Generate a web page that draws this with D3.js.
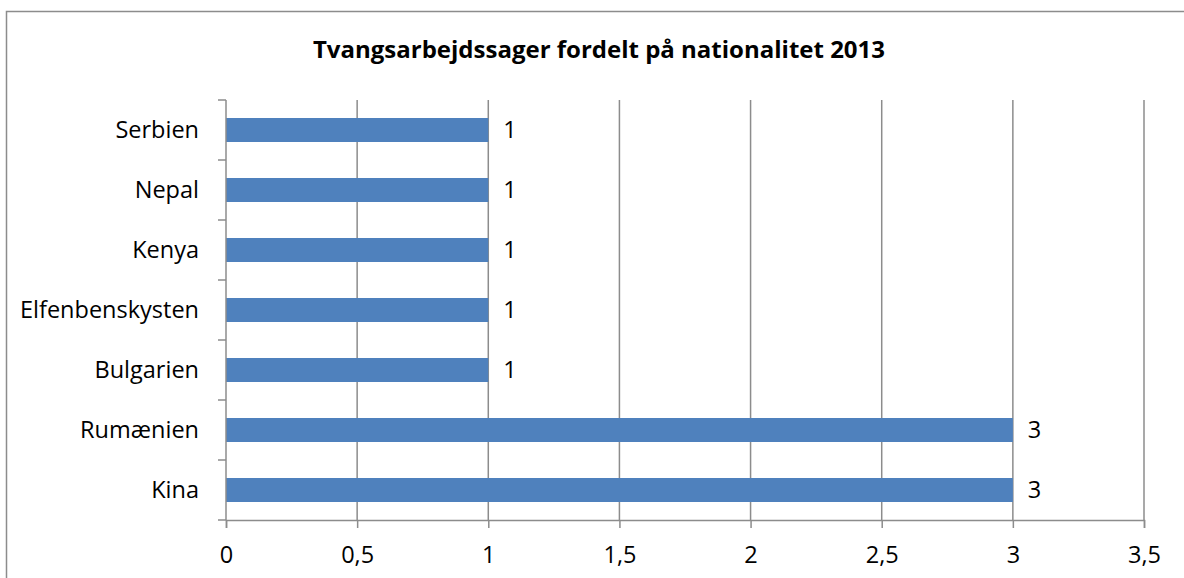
<!DOCTYPE html>
<html>
<head>
<meta charset="utf-8">
<script src="https://cdn.jsdelivr.net/npm/d3@7"></script>
<style>
  body { margin: 0; background: #fff; }
  svg { display: block; }
  text { font-family: "Open Sans", "Noto Sans", sans-serif; fill: #000; }
</style>
</head>
<body>
<div id="chart"></div>
<script>
const title = "Tvangsarbejdssager fordelt på nationalitet 2013";
const countries = ["Serbien", "Nepal", "Kenya", "Elfenbenskysten", "Bulgarien", "Rumænien", "Kina"];
const cases = [1, 1, 1, 1, 1, 3, 3];
const x_ticks = [0, 0.5, 1, 1.5, 2, 2.5, 3, 3.5];

const W = 1184, H = 578;
const margin = {left: 226, right: 40, top: 100, bottom: 58};
const label_size = "23.5px";

const svg = d3.select("#chart").append("svg")
  .attr("width", W)
  .attr("height", H);

// chart frame
svg.append("rect")
  .attr("x", 6.5).attr("y", 11.5)
  .attr("width", W + 20).attr("height", H + 20)
  .attr("fill", "none")
  .attr("stroke", "#8c8c8c")
  .attr("stroke-width", 1.5);

svg.append("text")
  .attr("x", 599).attr("y", 58)
  .attr("text-anchor", "middle")
  .style("font-size", "24px")
  .style("font-weight", "bold")
  .text(title);

const x = d3.scaleLinear()
  .domain([0, 3.5])
  .range([margin.left, W - margin.right]);

const y = d3.scaleBand()
  .domain(countries)
  .range([margin.top, H - margin.bottom])
  .paddingInner(0.6)
  .paddingOuter(0.3);

// vertical grid lines
svg.append("g").selectAll("line")
  .data(x_ticks.slice(1))
  .join("line")
  .attr("x1", d => x(d)).attr("x2", d => x(d))
  .attr("y1", margin.top).attr("y2", H - margin.bottom)
  .attr("stroke", "#8c8c8c")
  .attr("stroke-width", 1.5);

// bars
svg.append("g").selectAll("rect")
  .data(countries)
  .join("rect")
  .attr("x", x(0))
  .attr("y", d => y(d))
  .attr("width", (d, i) => x(cases[i]) - x(0))
  .attr("height", y.bandwidth())
  .attr("fill", "#4f81bd");

// value labels
svg.append("g").selectAll("text")
  .data(countries)
  .join("text")
  .attr("x", (d, i) => x(cases[i]) + 15)
  .attr("y", d => y(d) + y.bandwidth() / 2)
  .attr("dy", "0.34em")
  .style("font-size", label_size)
  .text((d, i) => cases[i]);

// x axis
const fmt = d => String(d).replace(".", ",");
const xAxis = svg.append("g")
  .attr("transform", `translate(0,${H - margin.bottom})`)
  .call(d3.axisBottom(x).tickValues(x_ticks).tickFormat(fmt).tickSize(8).tickPadding(18));
xAxis.select(".domain").attr("stroke", "#8c8c8c").attr("stroke-width", 1.5);
xAxis.selectAll(".tick line").attr("stroke", "#8c8c8c").attr("stroke-width", 1.5);
xAxis.selectAll(".tick text").style("font-size", label_size).attr("fill", "#000")
  .style("font-family", "'Open Sans', 'Noto Sans', sans-serif");

// y axis with ticks between categories
const step = y.step();
const y_bounds = d3.range(countries.length + 1).map(i => margin.top + i * step);
const yAxis = svg.append("g");
yAxis.append("line")
  .attr("x1", x(0)).attr("x2", x(0))
  .attr("y1", margin.top).attr("y2", H - margin.bottom)
  .attr("stroke", "#8c8c8c").attr("stroke-width", 1.5);
yAxis.selectAll("line.tick")
  .data(y_bounds)
  .join("line")
  .classed("tick", true)
  .attr("x1", x(0) - 8).attr("x2", x(0))
  .attr("y1", d => d).attr("y2", d => d)
  .attr("stroke", "#8c8c8c").attr("stroke-width", 1.5);
yAxis.selectAll("text")
  .data(countries)
  .join("text")
  .attr("x", x(0) - 27)
  .attr("y", d => y(d) + y.bandwidth() / 2)
  .attr("dy", "0.34em")
  .attr("text-anchor", "end")
  .style("font-size", label_size)
  .text(d => d);
</script>
</body>
</html>
